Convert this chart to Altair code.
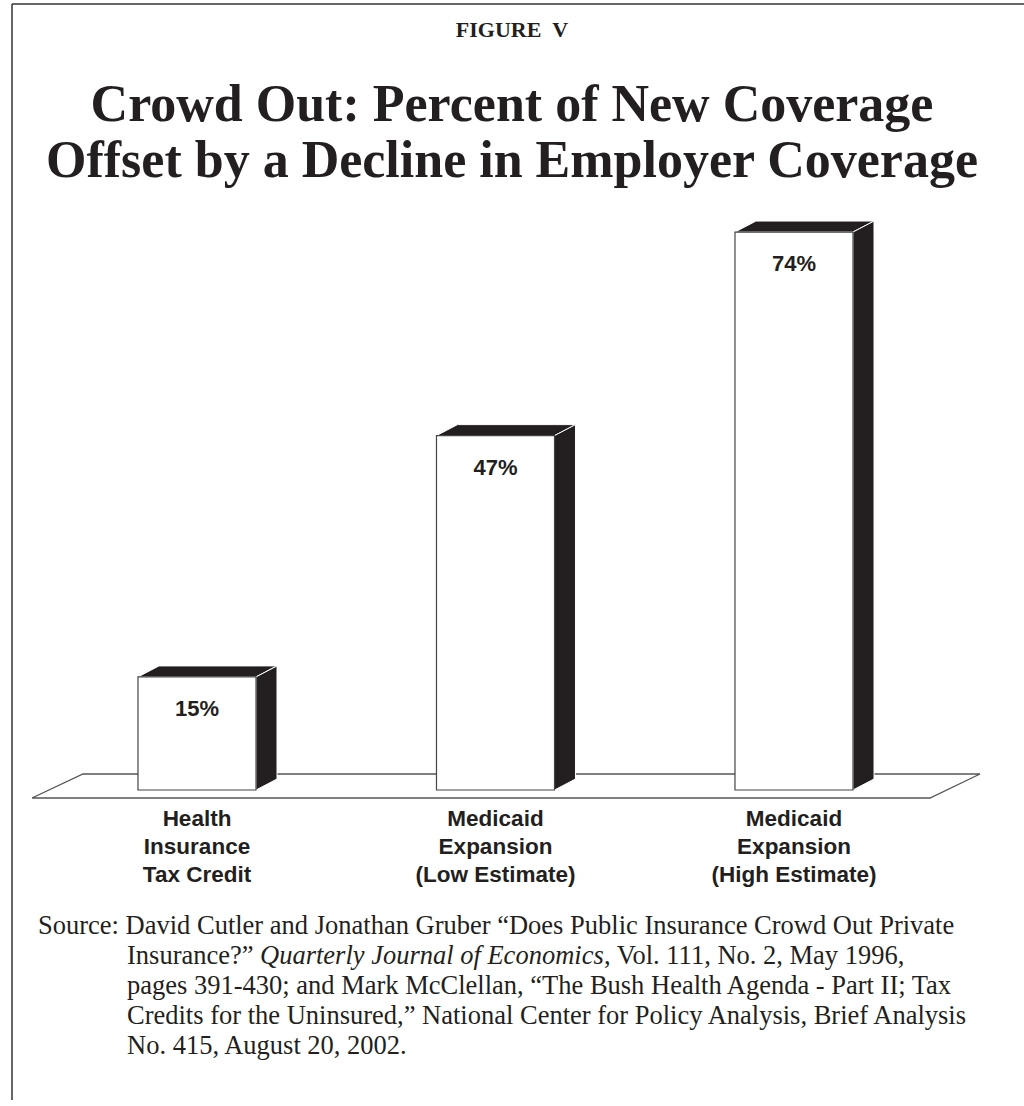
import altair as alt
import pandas as pd

# ---- chart content -------------------------------------------------------
categories = [
    "Health\nInsurance\nTax Credit",
    "Medicaid\nExpansion\n(Low Estimate)",
    "Medicaid\nExpansion\n(High Estimate)",
]
values = [15, 47, 74]
value_labels = ["15%", "47%", "74%"]

figure_label = "FIGURE\u00a0\u00a0V"
title_text = "Crowd Out: Percent of New Coverage\nOffset by a Decline in Employer Coverage"

source_first = "Source: David Cutler and Jonathan Gruber \u201cDoes Public Insurance Crowd Out Private"
source_second = ["Insurance?\u201d", "Quarterly Journal of Economics", ", Vol. 111, No. 2, May 1996,"]
source_rest = (
    "pages 391-430; and Mark McClellan, \u201cThe Bush Health Agenda - Part II; Tax\n"
    "Credits for the Uninsured,\u201d National Center for Policy Analysis, Brief Analysis\n"
    "No. 415, August 20, 2002."
)

# ---- geometry of the pseudo-3D boxes (in scale units) --------------------
W, H = 1024, 1100
PX_PER_PCT = 7.54
BASE_PX = 790                     # where 0 % sits, from the top
SLOT_PX = 298.5                   # distance between neighbouring boxes
FIRST_PX = 197                    # centre of the first box, from the left
X_DOMAIN = [-FIRST_PX / SLOT_PX, (W - FIRST_PX) / SLOT_PX]
Y_DOMAIN = [-(H - BASE_PX) / PX_PER_PCT, BASE_PX / PX_PER_PCT]
HALF = 0.1977                     # half the width of a bar's front face
DEPTH_X = 0.0704                  # receding depth, horizontal part
DEPTH_Y = 1.46                    # receding depth, vertical part

INK = "#231f20"
SERIF = "Liberation Serif"
SANS = "Liberation Sans"

xs = alt.Scale(domain=X_DOMAIN, nice=False, zero=False)
ys = alt.Scale(domain=Y_DOMAIN, nice=False, zero=False)

bars = pd.DataFrame({
    "slot": list(range(len(values))),
    "value": values,
    "label": value_labels,
    "category": categories,
})
bars["left"] = bars["slot"] - HALF
bars["right"] = bars["slot"] + HALF
bars["base"] = 0


def X(f):
    return alt.X(f, scale=xs, axis=None)


def Y(f):
    return alt.Y(f, scale=ys, axis=None, stack=None)


# receding top and side faces of each box, one area per face
face_layers = []
for i, v in enumerate(values):
    l, r = i - HALF, i + HALF
    top = pd.DataFrame({
        "x": [l, l + DEPTH_X, r, r + DEPTH_X],
        "y": [v, v + DEPTH_Y, v + DEPTH_Y, v + DEPTH_Y],
        "y2": [v, v, v, v + DEPTH_Y],
    })
    side = pd.DataFrame({
        "x": [r, r + DEPTH_X],
        "y": [v, v + DEPTH_Y],
        "y2": [0, DEPTH_Y],
    })
    for face in (top, side):
        face_layers.append(
            alt.Chart(face).mark_area(fill=INK, stroke="white", strokeWidth=1).encode(
                x=X("x:Q"), y=Y("y:Q"), y2="y2:Q"
            )
        )

# floor plane the boxes stand on
floor = pd.DataFrame({
    "k": [0, 1, 2, 3, 4],
    "x": [-0.5528, 2.4556, 2.6231, -0.3819, -0.5528],
    "y": [-1.06, -1.06, 2.12, 2.12, -1.06],
})

floor_layer = alt.Chart(floor).mark_line(color="#555555", strokeWidth=1.3).encode(
    x=X("x:Q"), y=Y("y:Q"), order="k:O"
)

front_layer = alt.Chart(bars).mark_rect(
    fill="white", stroke="#444444", strokeWidth=1.2
).encode(x=X("left:Q"), x2="right:Q", y=Y("value:Q"), y2="base:Q")

value_text = alt.Chart(bars).mark_text(
    font=SANS, fontWeight="bold", fontSize=22, color=INK, baseline="middle", dy=32
).encode(x=X("slot:Q"), y=Y("value:Q"), text="label:N")

category_text = alt.Chart(bars).mark_text(
    font=SANS, fontWeight="bold", fontSize=22.5, color=INK, baseline="alphabetic",
    lineBreak="\n", lineHeight=28, dy=36
).encode(x=X("slot:Q"), y=Y("base:Q"), text="category:N")


def note(text, x, y, **kw):
    return alt.Chart(pd.DataFrame({"t": [text]})).mark_text(
        baseline="alphabetic", color=INK, **kw
    ).encode(x=alt.value(x), y=alt.value(y), text="t:N")


figure_text = note(figure_label, 512, 37, font=SERIF, fontWeight="bold", fontSize=22, align="center")
title_main = note(title_text, 512, 121, font=SERIF, fontWeight="bold", fontSize=52,
                  align="center", lineBreak="\n", lineHeight=56)

SRC = 26.5
src1 = note(source_first, 38, 934, font=SERIF, fontSize=SRC, align="left")
src2a = note(source_second[0], 127, 964, font=SERIF, fontSize=SRC, align="left")
src2b = note(source_second[1], 260, 964, font=SERIF, fontSize=SRC, fontStyle="italic", align="left")
src2c = note(source_second[2], 604, 964, font=SERIF, fontSize=SRC, align="left")
src3 = note(source_rest, 127, 994, font=SERIF, fontSize=SRC, align="left",
            lineBreak="\n", lineHeight=30)

# page frame: top and left rules, both ends given explicitly
frame_top = alt.Chart(pd.DataFrame({"a": [0]})).mark_rule(color="#333333", strokeWidth=1.5).encode(
    x=alt.value(12), x2=alt.value(W), y=alt.value(4), y2=alt.value(4)
)
frame_left = alt.Chart(pd.DataFrame({"a": [0]})).mark_rule(color="#333333", strokeWidth=1.5).encode(
    x=alt.value(12), x2=alt.value(12), y=alt.value(4), y2=alt.value(H)
)

chart = alt.layer(
    frame_top, frame_left,
    floor_layer, *face_layers, front_layer,
    value_text, category_text,
    figure_text, title_main,
    src1, src2a, src2b, src2c, src3,
).properties(
    width=W, height=H, padding=0,
    autosize=alt.AutoSizeParams(type="none"),
    background="white",
    view=alt.ViewBackground(stroke="transparent", strokeWidth=0),
).configure_view(stroke="transparent", strokeWidth=0)

chart.save("out.html", embed_options={"renderer": "svg", "actions": False})
